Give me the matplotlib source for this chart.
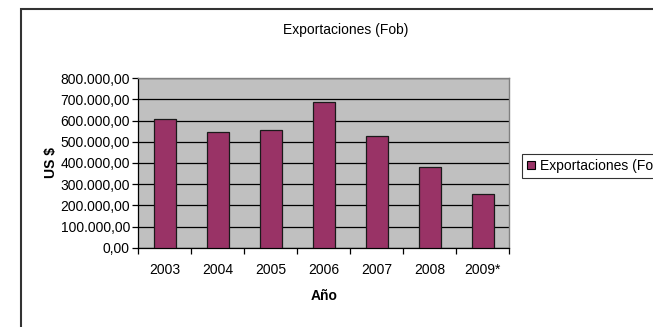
import matplotlib
matplotlib.use("Agg")
import matplotlib.pyplot as plt
import numpy as np
from matplotlib.patches import Rectangle
from matplotlib.ticker import FuncFormatter, FixedLocator

plt.rcParams["font.family"] = ["Liberation Sans", "DejaVu Sans"]

# ── Data ─────────────────────────────────────────────────────────────────────
years = ["2003", "2004", "2005", "2006", "2007", "2008", "2009*"]
exports_fob = [606000, 545000, 556000, 689000, 526000, 380000, 252000]
series_name = "Exportaciones (Fob)"

BAR_COLOR = "#993366"
PLOT_BG = "#C0C0C0"


def es_number(v, _pos=None):
    """Spanish style: 800.000,00"""
    s = f"{v:,.2f}"
    return s.replace(",", "_").replace(".", ",").replace("_", ".")


W, H = 653, 327
fig = plt.figure(figsize=(W / 100, H / 100), dpi=100)
fig.patch.set_facecolor("white")

# plot area in pixel coordinates
left, right, top, bottom = 138.3, 509.3, 78.3, 247.7
ax = fig.add_axes([left / W, 1 - bottom / H, (right - left) / W, (bottom - top) / H])
ax.set_facecolor(PLOT_BG)

x = np.arange(len(years))
# faint drop shadow behind each bar
ax.bar(x + 0.02, exports_fob, width=0.42, color="#6E6E6E", linewidth=0, zorder=2)
ax.bar(x, exports_fob, width=0.42, color=BAR_COLOR, edgecolor="#1a1a1a",
       linewidth=0.9, zorder=3)

ax.set_xlim(-0.5, len(years) - 0.5)
ax.set_ylim(0, 800000)
ax.set_yticks(np.arange(0, 800001, 100000))
ax.yaxis.set_major_formatter(FuncFormatter(es_number))
ax.grid(axis="y", color="black", linewidth=0.9, zorder=1)
ax.set_axisbelow(True)

ax.set_xticks(x)
ax.set_xticklabels(years)
ax.xaxis.set_minor_locator(FixedLocator(np.arange(-0.5, len(years), 1.0)))
ax.tick_params(axis="x", which="major", length=0, pad=11, labelsize=10)
ax.tick_params(axis="x", which="minor", length=4, width=0.9, direction="out")
ax.tick_params(axis="y", length=4, width=0.9, direction="out", pad=2, labelsize=10)

for side in ("top", "right"):
    ax.spines[side].set_color("#808080")
    ax.spines[side].set_linewidth(1.0)
for side in ("left", "bottom"):
    ax.spines[side].set_color("black")
    ax.spines[side].set_linewidth(0.9)

ax.set_xlabel("Año", fontsize=10, fontweight="bold", labelpad=9)
ax.set_ylabel("US $", fontsize=10, fontweight="bold", labelpad=2)

fig.text(346 / W, 1 - 30 / H, series_name, ha="center", va="center", fontsize=10)

# legend (runs past the right edge)
leg = fig.legend([Rectangle((0, 0), 1, 1, facecolor=BAR_COLOR, edgecolor="black",
                            linewidth=0.8)],
                 [series_name], loc="upper left",
                 bbox_to_anchor=(521.7 / W, 1 - 154 / H),
                 fontsize=10, frameon=True, fancybox=False, borderpad=0.35,
                 handlelength=0.6, handleheight=0.6, handletextpad=0.35,
                 borderaxespad=0)
leg.get_frame().set_edgecolor("black")
leg.get_frame().set_linewidth(0.8)

# chart area frame
fig.patches.append(Rectangle((21 / W, -0.2), 1.2, 1.2 - 9.3 / H,
                             transform=fig.transFigure, facecolor="none",
                             edgecolor="#333333", linewidth=1.5, zorder=0))

fig.savefig("out.png", dpi=100)
